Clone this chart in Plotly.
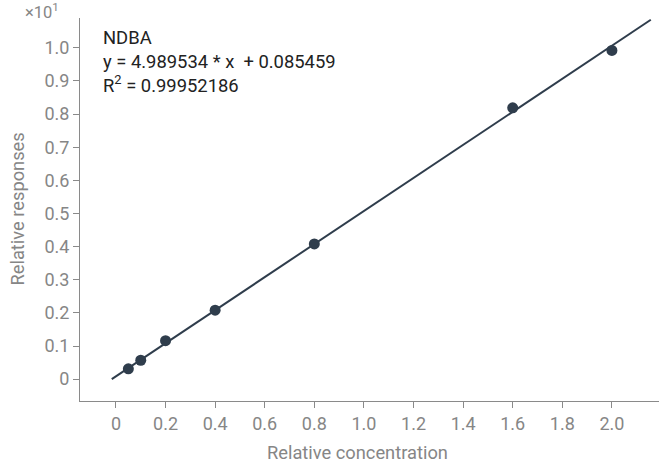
import plotly.graph_objects as go

# Calibration data for NDBA (responses shown in units of 10^1)
concentration = [0.05, 0.1, 0.2, 0.4, 0.8, 1.6, 2.0]
response = [0.031, 0.057, 0.116, 0.208, 0.408, 0.819, 0.992]

slope = 4.989534
intercept = 0.085459
r_squared = 0.99952186
fit_x = [-0.017, 2.157]

x_ticks = [0, 0.2, 0.4, 0.6, 0.8, 1.0, 1.2, 1.4, 1.6, 1.8, 2.0]
x_tick_text = ["0", "0.2", "0.4", "0.6", "0.8", "1.0", "1.2", "1.4", "1.6", "1.8", "2.0"]
y_ticks = [0, 0.1, 0.2, 0.3, 0.4, 0.5, 0.6, 0.7, 0.8, 0.9, 1.0]
y_tick_text = ["0", "0.1", "0.2", "0.3", "0.4", "0.5", "0.6", "0.7", "0.8", "0.9", "1.0"]

fit_y = [(slope * x + intercept) / 10 for x in fit_x]

dark = "#2f3d4c"
grey = "#868686"
font = "Roboto"

fig = go.Figure()
fig.add_trace(go.Scatter(x=fit_x, y=fit_y, mode="lines",
                         line=dict(color=dark, width=2), hoverinfo="skip"))
fig.add_trace(go.Scatter(x=concentration, y=response, mode="markers",
                         marker=dict(color=dark, size=11)))

axis_common = dict(showgrid=False, zeroline=False, showline=True, linecolor="#8a8a8a",
                   linewidth=1, ticks="outside", ticklen=6, tickcolor="#8a8a8a",
                   tickfont=dict(family=font, size=18, color=grey))

fig.update_layout(
    width=659, height=463,
    margin=dict(l=80, r=0, t=18, b=62),
    paper_bgcolor="white", plot_bgcolor="white",
    showlegend=False,
    font=dict(family=font),
    xaxis=dict(range=[-0.145, 2.19], tickvals=x_ticks, ticktext=x_tick_text, **axis_common),
    yaxis=dict(range=[-0.066, 1.09], tickvals=y_ticks, ticktext=y_tick_text, **axis_common),
    annotations=[
        dict(text="Relative concentration", xref="paper", yref="paper", x=0.479, y=0,
             xanchor="center", yanchor="middle", yshift=-51, showarrow=False,
             font=dict(family=font, size=18.3, color=grey)),
        dict(text="Relative responses", xref="paper", yref="paper", x=0, y=0.5,
             xanchor="center", yanchor="middle", xshift=-63, textangle=-90, showarrow=False,
             font=dict(family=font, size=18.3, color=grey)),
        dict(text="×10<sup>1</sup>", xref="paper", yref="paper", x=-0.098, y=1.0,
             xanchor="left", yanchor="bottom", showarrow=False,
             font=dict(family=font, size=16.5, color=grey), yshift=-6),
        dict(text=f"NDBA<br>y = {slope:.6f} * x  + {intercept:.6f}<br>R<sup>2</sup> = {r_squared:.8f}",
             xref="paper", yref="paper", x=0.036, y=0.982, xanchor="left", yanchor="top",
             align="left", showarrow=False,
             font=dict(family=font, size=18.4, color="#222222")),
    ],
)

fig.write_html("out.html")
